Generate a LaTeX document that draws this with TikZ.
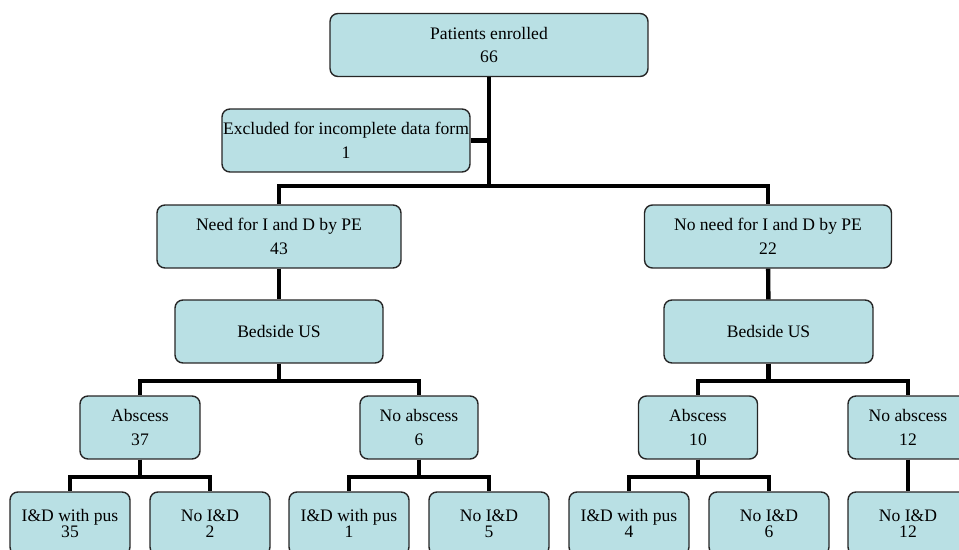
\documentclass[tikz,border=0pt]{standalone}
\usepackage{fontspec}
\setmainfont{Liberation Serif}
\newfontfamily\chartfont{Liberation Serif}
\definecolor{boxfill}{RGB}{185,224,228}
\begin{document}
\begin{tikzpicture}[x=0.02cm, y=-0.02cm,
  box/.style={draw=black!85, line width=0.8pt, fill=boxfill, rounded corners=4.5pt,
    align=center, inner sep=0pt, minimum height=1.26cm,
    font=\chartfont\fontsize{10}{13.6}\selectfont},
  leaf/.style={box, minimum width=2.4cm,
    font={\chartfont\fontsize{10}{9}\selectfont\lineskiplimit=-5pt}},
  link/.style={line width=2.5pt, black}]
\useasboundingbox (0,0) rectangle (959,550);
\clip (0,0) rectangle (959,550);
% top of the chart
\node[box, minimum width=6.36cm] (enrolled) at (489,45) {Patients enrolled\\66};
\node[box, minimum width=4.96cm] (excluded) at (346,140.5) {Excluded for incomplete data form\\1};
\node[box, minimum width=4.88cm] (needpe) at (279,236.5) {Need for I and D by PE\\43};
\node[box, minimum width=4.94cm] (noneedpe) at (768,236.5) {No need for I and D by PE\\22};
\node[box, minimum width=4.16cm] (usleft) at (279,331.5) {Bedside US};
\node[box, minimum width=4.18cm] (usright) at (768.5,331.5) {Bedside US};
% ultrasound results
\node[box, minimum width=2.4cm] (abs37) at (140,427.5) {Abscess\\37};
\node[box, minimum width=2.36cm] (noabs6) at (419,427.5) {No abscess\\6};
\node[box, minimum width=2.38cm] (abs10) at (698,427.5) {Abscess\\10};
\node[box, minimum width=2.4cm] (noabs12) at (908,427.5) {No abscess\\12};
% I&D outcome
\node[leaf] (pus35) at (70,523.5) {I\&D with pus\\35};
\node[leaf] (noid2) at (210,523.5) {No I\&D\\2};
\node[leaf] (pus1) at (349,523.5) {I\&D with pus\\1};
\node[leaf] (noid5) at (489,523.5) {No I\&D\\5};
\node[leaf] (pus4) at (629,523.5) {I\&D with pus\\4};
\node[leaf] (noid6) at (769,523.5) {No I\&D\\6};
\node[leaf] (noid12) at (908,523.5) {No I\&D\\12};
% connectors
\coordinate (split) at (489,186);
\draw[link] (enrolled.south) -- (split);
\draw[link] (excluded.east) -- (excluded.east -| enrolled.south);
\draw[link] (needpe.north) |- (split) -| (noneedpe.north);
\draw[link] (needpe) -- (usleft);
\draw[link] (noneedpe) -- (usright);
\foreach \c in {abs37,noabs6} \draw[link] (usleft.south) -- ++(0,17) -| (\c.north);
\foreach \c in {abs10,noabs12} \draw[link] (usright.south) -- ++(0,17) -| (\c.north);
\foreach \c in {pus35,noid2} \draw[link] (abs37.south) -- ++(0,17) -| (\c.north);
\foreach \c in {pus1,noid5} \draw[link] (noabs6.south) -- ++(0,17) -| (\c.north);
\foreach \c in {pus4,noid6} \draw[link] (abs10.south) -- ++(0,17) -| (\c.north);
\draw[link] (noabs12) -- (noid12);
\end{tikzpicture}
\end{document}
